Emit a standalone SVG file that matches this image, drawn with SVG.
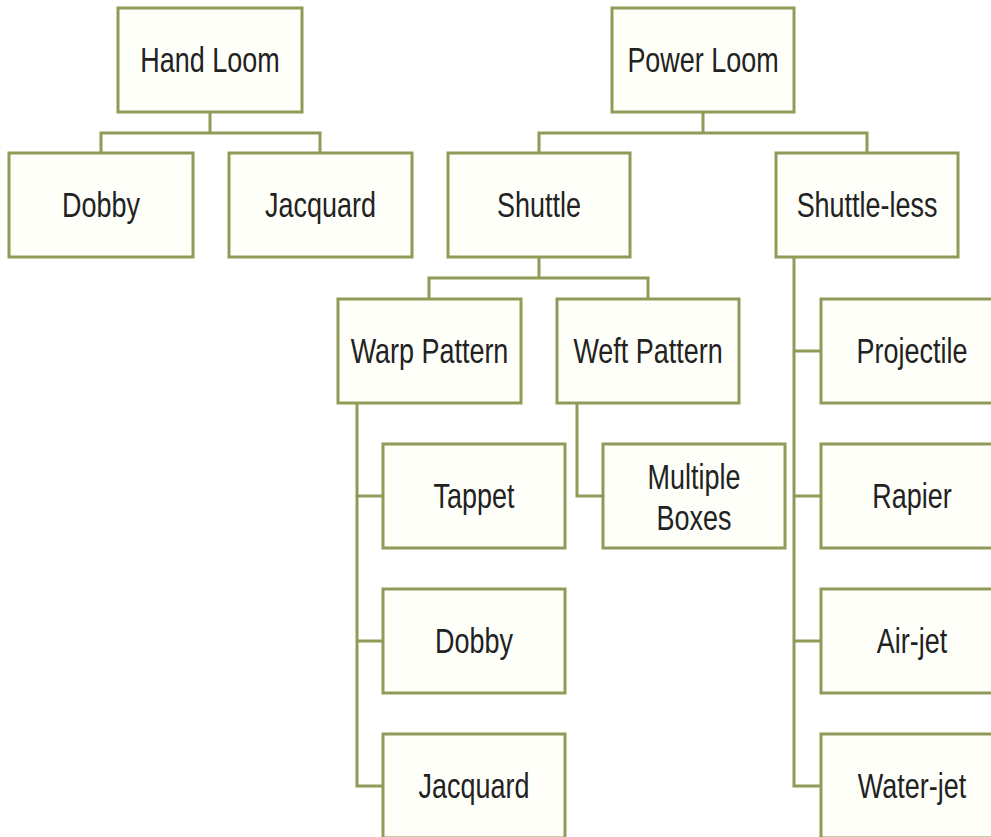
<svg xmlns="http://www.w3.org/2000/svg" width="991" height="837" viewBox="0 0 991 837">
<style>
.box{fill:#fffffa;stroke:#8e9c58;stroke-width:3}
.con{fill:none;stroke:#8e9c58;stroke-width:3}
.t{font-family:"Liberation Sans",Arial,sans-serif;font-size:35px;fill:#222;text-anchor:middle}
</style>
<rect width="991" height="837" fill="#ffffff"/>
<g id="connectors" class="con">
<path d="M210,112 V133 M101,153 V133 H320 V153"/>
<path d="M703,112 V133 M539,153 V133 H867 V153"/>
<path d="M539,257 V278 M429,299 V278 H648 V299"/>
<path d="M357,403 V786 H383 M357,496 H383 M357,641 H383"/>
<path d="M577,403 V496 H603"/>
<path d="M794,257 V786 H821 M794,351 H821 M794,496 H821 M794,641 H821"/>
</g>
<g id="hand-loom"><rect class="box" x="118" y="8" width="184" height="104"/><text class="t" transform="translate(210,72) scale(0.77,1)">Hand Loom</text></g>
<g id="hand-dobby"><rect class="box" x="9" y="153" width="184" height="104"/><text class="t" transform="translate(101,217) scale(0.77,1)">Dobby</text></g>
<g id="hand-jacquard"><rect class="box" x="229" y="153" width="183" height="104"/><text class="t" transform="translate(320.5,217) scale(0.77,1)">Jacquard</text></g>
<g id="power-loom"><rect class="box" x="612" y="8" width="182" height="104"/><text class="t" transform="translate(703,72) scale(0.77,1)">Power Loom</text></g>
<g id="shuttle"><rect class="box" x="448" y="153" width="182" height="104"/><text class="t" transform="translate(539,217) scale(0.77,1)">Shuttle</text></g>
<g id="shuttle-less"><rect class="box" x="776" y="153" width="182" height="104"/><text class="t" transform="translate(867,217) scale(0.77,1)">Shuttle-less</text></g>
<g id="warp-pattern"><rect class="box" x="338" y="299" width="183" height="104"/><text class="t" transform="translate(429.5,363) scale(0.77,1)">Warp Pattern</text></g>
<g id="weft-pattern"><rect class="box" x="557" y="299" width="182" height="104"/><text class="t" transform="translate(648,363) scale(0.77,1)">Weft Pattern</text></g>
<g id="tappet"><rect class="box" x="383" y="444" width="182" height="104"/><text class="t" transform="translate(474,508) scale(0.77,1)">Tappet</text></g>
<g id="multiple-boxes"><rect class="box" x="603" y="444" width="182" height="104"/><text class="t" transform="translate(694,489) scale(0.77,1)">Multiple</text><text class="t" transform="translate(694,530) scale(0.77,1)">Boxes</text></g>
<g id="warp-dobby"><rect class="box" x="383" y="589" width="182" height="104"/><text class="t" transform="translate(474,653) scale(0.77,1)">Dobby</text></g>
<g id="warp-jacquard"><rect class="box" x="383" y="734" width="182" height="104"/><text class="t" transform="translate(474,798) scale(0.77,1)">Jacquard</text></g>
<g id="projectile"><rect class="box" x="821" y="299" width="182" height="104"/><text class="t" transform="translate(912,363) scale(0.77,1)">Projectile</text></g>
<g id="rapier"><rect class="box" x="821" y="444" width="182" height="104"/><text class="t" transform="translate(912,508) scale(0.77,1)">Rapier</text></g>
<g id="air-jet"><rect class="box" x="821" y="589" width="182" height="104"/><text class="t" transform="translate(912,653) scale(0.77,1)">Air-jet</text></g>
<g id="water-jet"><rect class="box" x="821" y="734" width="182" height="104"/><text class="t" transform="translate(912,798) scale(0.77,1)">Water-jet</text></g>
</svg>
